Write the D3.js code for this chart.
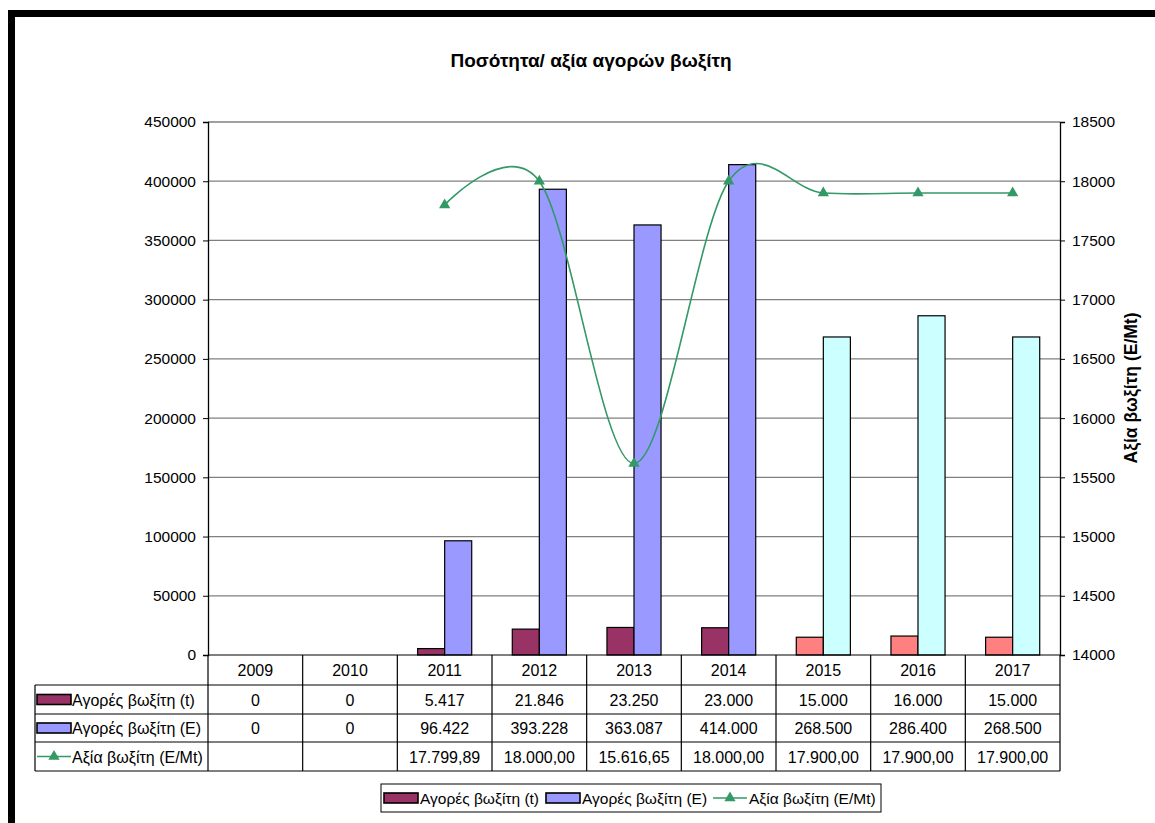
<!DOCTYPE html>
<html><head><meta charset="utf-8">
<script src="https://cdn.jsdelivr.net/npm/d3@7"></script>
<style>body{margin:0;background:#fff}svg{display:block;font-family:"Liberation Sans",Arial,sans-serif}</style>
</head><body>
<svg id="c" width="1155" height="823"></svg>
<script>
const years = ["2009","2010","2011","2012","2013","2014","2015","2016","2017"];
const tonnes = [0,0,5417,21846,23250,23000,15000,16000,15000];
const euros = [0,0,96422,393228,363087,414000,268500,286400,268500];
const valuePerMt = [null,null,17799.89,18000.00,15616.65,18000.00,17900.00,17900.00,17900.00];
const seriesNames = ["Αγορές βωξίτη (t)","Αγορές βωξίτη (E)","Αξία βωξίτη (E/Mt)"];
const leftTicks = [0,50000,100000,150000,200000,250000,300000,350000,400000,450000];
const rightTicks = [14000,14500,15000,15500,16000,16500,17000,17500,18000,18500];
const title = "Ποσότητα/ αξία αγορών βωξίτη";
const rightTitle = "Αξία βωξίτη (E/Mt)";

const colT = "#993366", colE = "#9999FF", colT2 = "#FF8080", colE2 = "#CCFFFF", colL = "#339966";
const svg = d3.select("#c");
const L = 208, R = 1060, T = 122, B = 655;
const fsTick = 15.5, fsTab = 16, fsLeg = 15.5;
const loc = d3.formatLocale({decimal:",",thousands:".",grouping:[3],currency:["","€"]});
const fInt = loc.format(",.0f"), fDec = loc.format(",.2f");

// frame
svg.append("rect").attr("x",8).attr("y",10).attr("width",1147).attr("height",7).attr("fill","#000");
svg.append("rect").attr("x",8).attr("y",10).attr("width",7).attr("height",813).attr("fill","#000");

const x = d3.scaleBand().domain(years).range([L,R]).paddingInner(0).paddingOuter(0);
const y = d3.scaleLinear().domain([0,450000]).range([B,T]);
const y2 = d3.scaleLinear().domain([14000,18500]).range([B,T]);
const bw = x.bandwidth();
const sub = bw/(2+1.5);

// gridlines
svg.append("g").selectAll("line").data(leftTicks.filter(d=>d>0)).join("line")
  .attr("x1",L).attr("x2",R).attr("y1",d=>y(d)).attr("y2",d=>y(d))
  .attr("stroke","#808080").attr("stroke-width",1.3);

// bars
const g = svg.append("g");
years.forEach((yr,i)=>{
  const cx = x(yr)+bw/2;
  const late = i>=6;
  if (tonnes[i]>0) g.append("rect").attr("x",cx-sub).attr("y",y(tonnes[i])).attr("width",sub).attr("height",B-y(tonnes[i]))
    .attr("fill",late?colT2:colT).attr("stroke","#000").attr("stroke-width",1.2);
  if (euros[i]>0) g.append("rect").attr("x",cx).attr("y",y(euros[i])).attr("width",sub).attr("height",B-y(euros[i]))
    .attr("fill",late?colE2:colE).attr("stroke","#000").attr("stroke-width",1.2);
});

// line
const pts = years.map((yr,i)=>({x:x(yr)+bw/2,v:valuePerMt[i]})).filter(d=>d.v!=null);
svg.append("path").datum(pts).attr("fill","none").attr("stroke",colL).attr("stroke-width",1.6)
  .attr("d",d3.line().x(d=>d.x).y(d=>y2(d.v)).curve(d3.curveCardinal.tension(0)));
const tri = d3.symbol().type(d3.symbolTriangle).size(55);
svg.append("g").selectAll("path").data(pts).join("path").attr("d",tri)
  .attr("transform",d=>`translate(${d.x},${y2(d.v)})`).attr("fill",colL);

// axes
const ax = svg.append("g").attr("transform",`translate(${L},0)`)
  .call(d3.axisLeft(y).tickValues(leftTicks).tickFormat(d3.format("d")).tickSize(5).tickPadding(7));
const ax2 = svg.append("g").attr("transform",`translate(${R},0)`)
  .call(d3.axisRight(y2).tickValues(rightTicks).tickFormat(d3.format("d")).tickSize(5).tickPadding(7));
[ax,ax2].forEach(a=>{
  a.select(".domain").attr("stroke","#000").attr("stroke-width",1.3);
  a.selectAll(".tick line").attr("stroke","#000");
  a.selectAll("text").attr("font-size",fsTick).attr("fill","#000").attr("font-family","Liberation Sans, Arial");
});

// title
svg.append("text").attr("x",591).attr("y",67).attr("text-anchor","middle")
  .attr("font-size",19).attr("font-weight","bold").text(title);
svg.append("text").attr("transform","translate(1137,388) rotate(-90)").attr("text-anchor","middle")
  .attr("font-size",17.5).attr("font-weight","bold").text(rightTitle);

// data table
const rowY = [655,685,714,742,771];
const tL = 35;
const tb = svg.append("g").attr("stroke","#000").attr("stroke-width",1.2);
tb.append("line").attr("x1",L).attr("x2",R).attr("y1",B).attr("y2",B);
[1,2,3,4].forEach(k=>tb.append("line").attr("x1",tL).attr("x2",R).attr("y1",rowY[k]).attr("y2",rowY[k]));
years.forEach(yr=>tb.append("line").attr("x1",x(yr)).attr("x2",x(yr)).attr("y1",B).attr("y2",rowY[4]));
tb.append("line").attr("x1",R).attr("x2",R).attr("y1",B).attr("y2",rowY[4]);
tb.append("line").attr("x1",tL).attr("x2",tL).attr("y1",rowY[1]).attr("y2",rowY[4]);

const tt = svg.append("g").attr("font-size",fsTab).attr("fill","#000");
years.forEach((yr,i)=>{
  const cx = x(yr)+bw/2;
  tt.append("text").attr("x",cx).attr("y",(rowY[0]+rowY[1])/2+6).attr("text-anchor","middle").text(yr);
  tt.append("text").attr("x",cx).attr("y",(rowY[1]+rowY[2])/2+6).attr("text-anchor","middle").text(fInt(tonnes[i]));
  tt.append("text").attr("x",cx).attr("y",(rowY[2]+rowY[3])/2+6).attr("text-anchor","middle").text(fInt(euros[i]));
  if (valuePerMt[i]!=null) tt.append("text").attr("x",cx).attr("y",(rowY[3]+rowY[4])/2+6).attr("text-anchor","middle").text(fDec(valuePerMt[i]));
});

function key(gp,kx,ky,type,color){
  if(type==="rect"){
    gp.append("rect").attr("x",kx).attr("y",ky-5).attr("width",34).attr("height",10).attr("fill",color).attr("stroke","#000").attr("stroke-width",1.6);
  } else {
    gp.append("line").attr("x1",kx).attr("x2",kx+34).attr("y1",ky).attr("y2",ky).attr("stroke",color).attr("stroke-width",1.6);
    gp.append("path").attr("d",tri).attr("transform",`translate(${kx+17},${ky})`).attr("fill",colL);
  }
}
const types = ["rect","rect","line"], cols = [colT,colE,colL];
[0,1,2].forEach(k=>{
  const cy = (rowY[k+1]+rowY[k+2])/2;
  key(svg,37,cy,types[k],cols[k]);
  svg.append("text").attr("x",72).attr("y",cy+6).attr("font-size",fsTab).text(seriesNames[k]);
});

// legend
const lg = svg.append("g");
lg.append("rect").attr("x",381).attr("y",784).attr("width",500).attr("height",28).attr("fill","#fff").attr("stroke","#000").attr("stroke-width",1);
const lx = [384,546,713];
[0,1,2].forEach(k=>{
  key(lg,lx[k],798,types[k],cols[k]);
  lg.append("text").attr("x",lx[k]+36).attr("y",804).attr("font-size",fsLeg).text(seriesNames[k]);
});
</script>
</body></html>
